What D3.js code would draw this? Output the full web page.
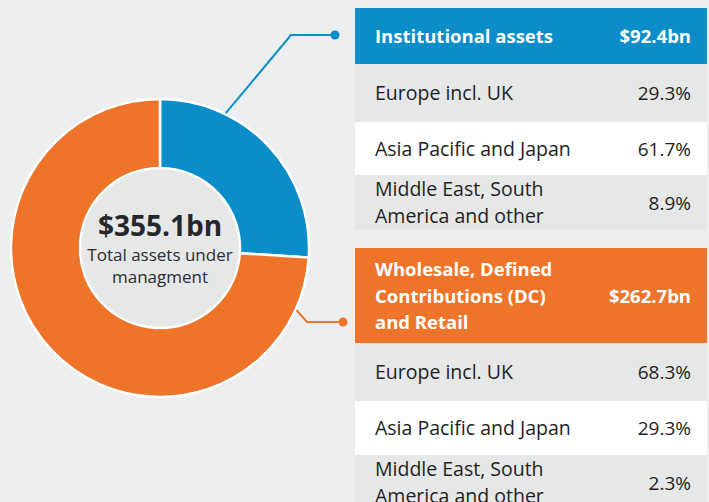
<!DOCTYPE html>
<html>
<head>
<meta charset="utf-8">
<script src="https://cdn.jsdelivr.net/npm/d3@7"></script>
<style>
  body { margin: 0; background: #edeef0; }
  svg { display: block; font-family: "Open Sans", "Noto Sans", sans-serif; }
</style>
</head>
<body>
<div id="chart"></div>
<script>
// data
var segments = ["Institutional assets", "Wholesale, Defined Contributions (DC) and Retail"];
var headerLines = [["Institutional assets"], ["Wholesale, Defined", "Contributions (DC)", "and Retail"]];
var assets = [92.4, 262.7];
var totalLabel = "$355.1bn";
var regions = [["Europe incl. UK"], ["Asia Pacific and Japan"], ["Middle East, South", "America and other"]];
var shares = [
  [29.3, 61.7, 8.9],
  [68.3, 29.3, 2.3]
];

var width = 709, height = 502;
var colors = ["#0a8dc8", "#ee742a"];
var rowFills = ["#e6e7e7", "#ffffff", "#e6e7e7"];
var textDark = "#1e1f23";

var cx = 160, cy = 248, outerR = 149, innerR = 80;

// table layout
var tableX = 355, tableW = 352, textX = 375, valueX = 691;
var tables = [
  { top: 8, headH: 56, rowH: [58, 53, 55], lineH: 26.5 },
  { top: 248, headH: 95, rowH: [58, 54, 55], lineH: 26.5 }
];
// leader lines: angle on the ring (deg from top), elbow, end dot
var leaders = [
  { angle: 26, elbow: [291, 35], end: 335 },
  { angle: 114.5, elbow: [307, 322], end: 343 }
];

var svg = d3.select('#chart')
  .append('svg')
  .attr('width', width)
  .attr('height', height);

svg.append('rect')
  .attr('width', width)
  .attr('height', height)
  .attr('fill', '#edeef0');

// donut
var pie = d3.pie().value(function(d) { return d; }).sort(null);
var arc = d3.arc().innerRadius(innerR).outerRadius(outerR);

var g = svg.append('g')
  .attr('transform', 'translate(' + cx + ',' + cy + ')');

g.append('circle')
  .attr('r', innerR)
  .attr('fill', '#e6e7e7');

g.selectAll('path.slice')
  .data(pie(assets))
  .enter()
  .append('path')
  .attr('class', 'slice')
  .attr('d', arc)
  .attr('fill', function(d, i) { return colors[i]; })
  .attr('stroke', '#fff')
  .attr('stroke-width', 2.5);

g.append('text')
  .attr('text-anchor', 'middle')
  .attr('y', -12)
  .attr('font-size', 28)
  .attr('font-weight', 'bold')
  .attr('fill', '#26272c')
  .text(totalLabel);

g.selectAll('text.sub')
  .data(["Total assets under", "managment"])
  .enter()
  .append('text')
  .attr('class', 'sub')
  .attr('text-anchor', 'middle')
  .attr('y', function(d, i) { return 12.5 + i * 22; })
  .attr('font-size', 17)
  .attr('fill', '#2b2c31')
  .text(function(d) { return d; });

// leader lines
leaders.forEach(function(l, i) {
  var a = l.angle * Math.PI / 180;
  var sx = cx + Math.sin(a) * (outerR + 1);
  var sy = cy - Math.cos(a) * (outerR + 1);
  svg.append('path')
    .attr('d', d3.line()([[sx, sy], l.elbow, [l.end, l.elbow[1]]]))
    .attr('fill', 'none')
    .attr('stroke', colors[i])
    .attr('stroke-width', 2);
  svg.append('circle')
    .attr('cx', l.end)
    .attr('cy', l.elbow[1])
    .attr('r', 4.5)
    .attr('fill', colors[i]);
});

// tables
tables.forEach(function(t, k) {
  var tg = svg.append('g');
  var midH = t.top + t.headH / 2;

  tg.append('rect')
    .attr('x', tableX).attr('y', t.top)
    .attr('width', tableW).attr('height', t.headH)
    .attr('fill', colors[k]);

  var hl = headerLines[k];
  tg.selectAll('text.head')
    .data(hl)
    .enter()
    .append('text')
    .attr('class', 'head')
    .attr('x', textX)
    .attr('y', function(d, i) { return midH + (i - (hl.length - 1) / 2) * t.lineH + 7; })
    .attr('font-size', 18.5)
    .attr('font-weight', 'bold')
    .attr('fill', '#fff')
    .text(function(d) { return d; });

  tg.append('text')
    .attr('x', valueX)
    .attr('y', midH + 7)
    .attr('text-anchor', 'end')
    .attr('font-size', 18.5)
    .attr('font-weight', 'bold')
    .attr('fill', '#fff')
    .text('$' + assets[k] + 'bn');

  var y = t.top + t.headH;
  shares[k].forEach(function(v, r) {
    var h = t.rowH[r];
    var mid = y + h / 2;
    tg.append('rect')
      .attr('x', tableX).attr('y', y)
      .attr('width', tableW).attr('height', h)
      .attr('fill', rowFills[r]);
    var lines = regions[r];
    lines.forEach(function(s, i) {
      tg.append('text')
        .attr('x', textX)
        .attr('y', mid + (i - (lines.length - 1) / 2) * 27 + 7)
        .attr('font-size', 19.5)
        .attr('fill', textDark)
        .text(s);
    });
    tg.append('text')
      .attr('x', valueX)
      .attr('y', mid + 7)
      .attr('text-anchor', 'end')
      .attr('font-size', 19)
      .attr('fill', textDark)
      .text(v.toFixed(1) + '%');
    y += h;
  });
});
</script>
</body>
</html>
